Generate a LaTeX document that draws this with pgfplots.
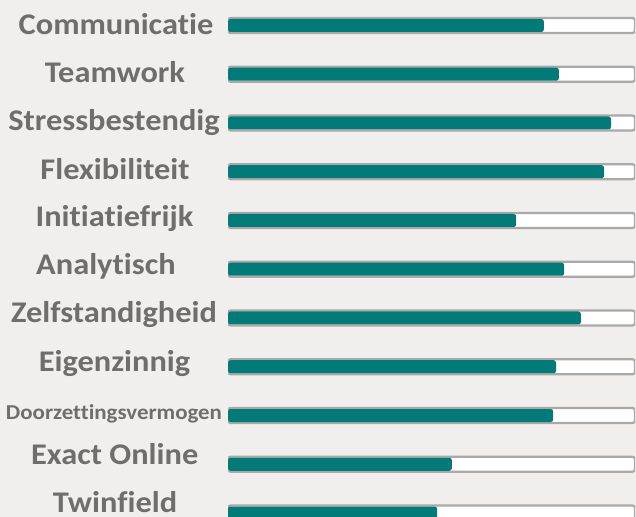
\documentclass[border=0pt]{standalone}
\usepackage{pgfplots}
\usepackage{pgfplotstable}
\pgfplotsset{compat=1.18}
\usepackage{fontspec}
\setmainfont{Carlito}[Ligatures=NoCommon, FakeStretch=1.08]
\definecolor{bg}{HTML}{F0EFED}
\definecolor{barteal}{HTML}{027A77}
\definecolor{trackgray}{HTML}{A9A9A9}
\definecolor{lab}{HTML}{706E6C}
\pgfplotstableread{
y      v     full
25.5   77.6  100
74.25  81.3  100
123    94.1  100
171.75 92.4  100
220.5  70.8  100
269.25 82.6  100
318    86.7  100
366.75 80.6  100
415.5  79.9  100
464.25 55.0  100
513    51.4  100
}\skills
\begin{document}
\begin{tikzpicture}[x=1bp,y=1bp]
\useasboundingbox (0,0) rectangle (636,517);
\fill[bg] (0,0) rectangle (636,517);
\begin{axis}[at={(228bp,0bp)}, anchor=south west, scale only axis,
  width=407bp, height=517bp, xmin=0, xmax=100, ymin=0, ymax=517,
  y dir=reverse, hide axis, xbar, bar shift=0pt]
\addplot[draw=trackgray, line width=2.2bp, fill=white, rounded corners=2.5bp, bar width=15bp] table[x=full,y=y] {\skills};
\addplot[fill=barteal, draw=none, rounded corners=2.5bp, bar width=13bp] table[x=v,y=y] {\skills};
\end{axis}
\tikzset{lbl/.style={anchor=base, text=lab, font=\bfseries\fontsize{30bp}{31bp}\selectfont}}
\node[lbl] at (116,482) {Communicatie};
\node[lbl] at (115,434) {Teamwork};
\node[lbl] at (114,386) {Stressbestendig};
\node[lbl] at (115,337) {Flexibiliteit};
\node[lbl] at (114.5,290) {Initiatiefrijk};
\node[lbl] at (106,242) {Analytisch};
\node[lbl] at (114,194) {Zelfstandigheid};
\node[lbl] at (114.5,145.3) {Eigenzinnig};
\node[lbl, font=\bfseries\fontsize{21.2bp}{22bp}\selectfont] at (114,97) {Doorzettingsvermogen};
\node[lbl] at (114.7,52) {Exact Online};
\node[lbl] at (115,4) {Twinfield};
\end{tikzpicture}
\end{document}
